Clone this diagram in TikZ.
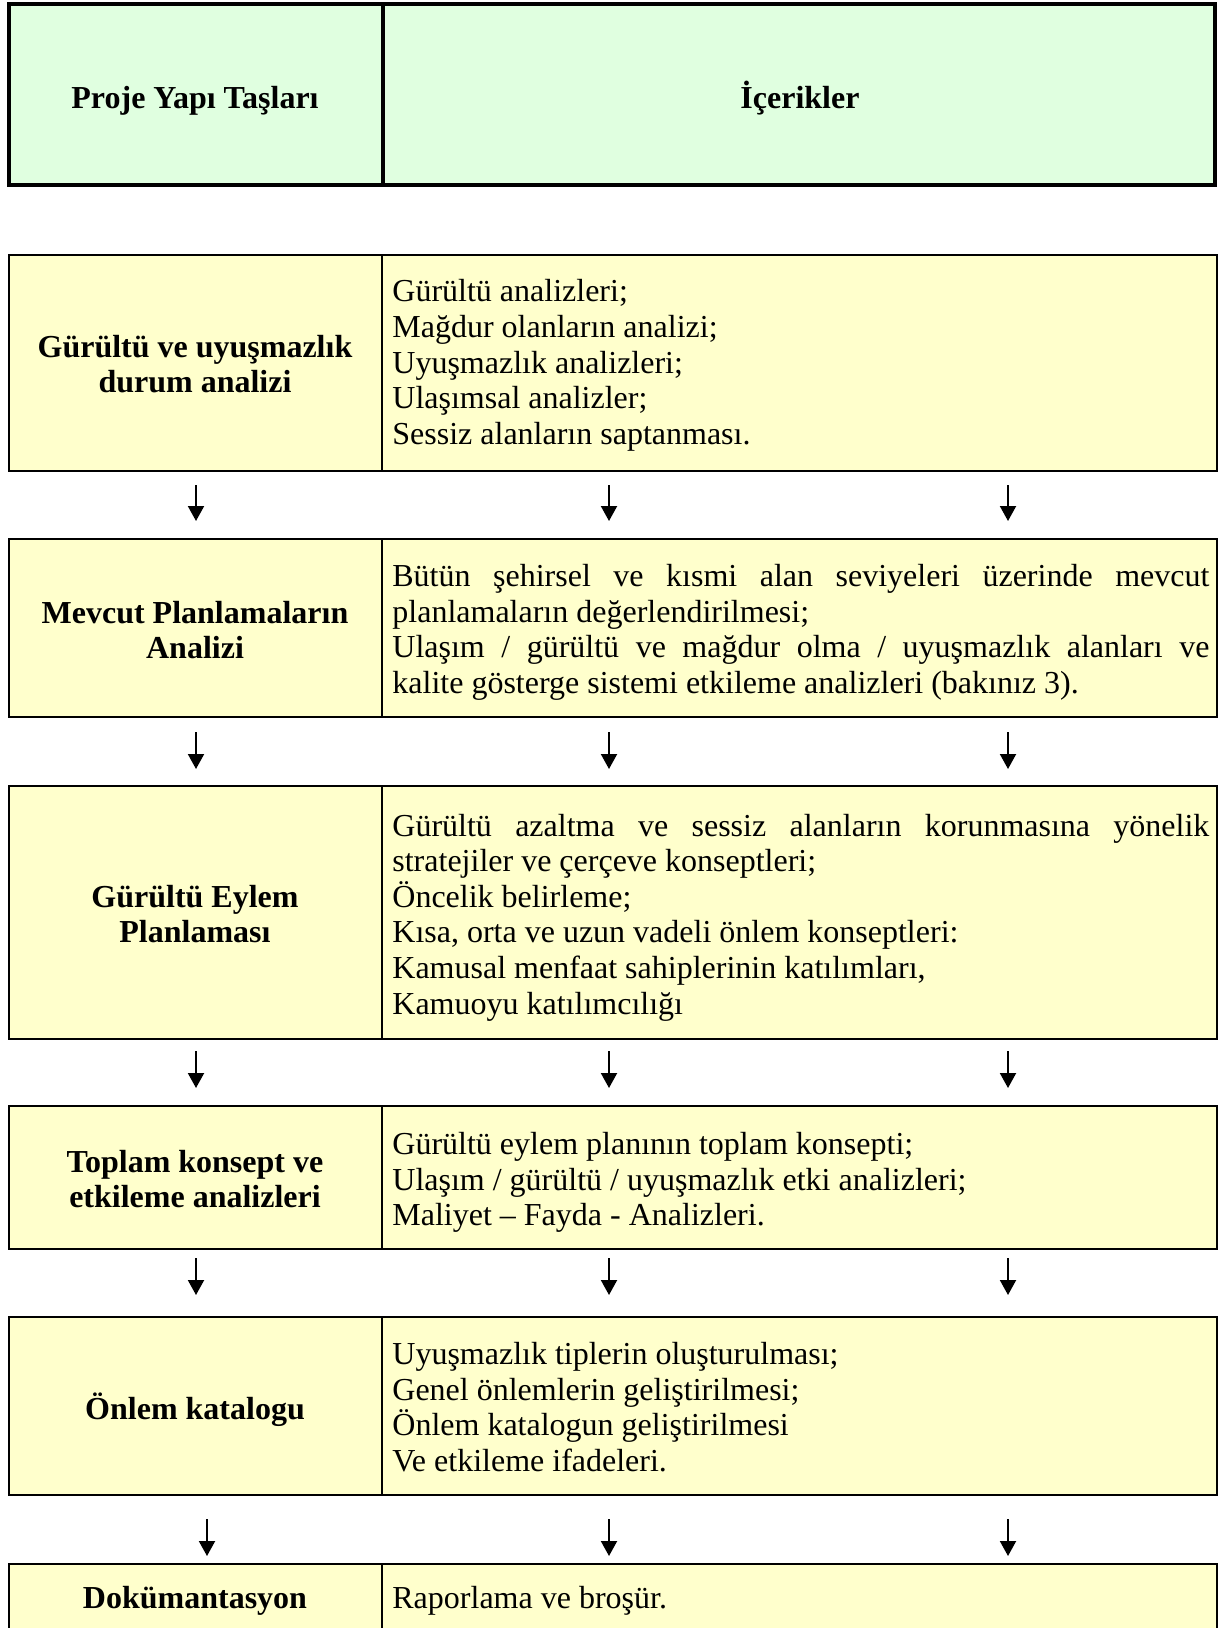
\documentclass[tikz,border=0pt]{standalone}
\usepackage{fontspec}
\setmainfont{Liberation Serif}
\usetikzlibrary{arrows.meta}
\definecolor{hdrgreen}{RGB}{224,255,224}
\definecolor{rowyellow}{RGB}{255,255,204}
\newcommand\lns{\vrule height 15pt depth 15pt width 0pt}
\newcommand\tset{\fontsize{16}{17.8}\selectfont\lineskiplimit=-100pt\lineskip=0pt\spaceskip=.25em\xspaceskip=.25em\relax}
\newcommand\jline[1]{{\spaceskip=.25em plus 3em minus .05em\xspaceskip=\spaceskip\makebox[408.5pt][s]{#1}}}
\begin{document}
\begin{tikzpicture}[x=0.5pt,y=-0.5pt,
  hdrline/.style={draw=black, line width=2pt},
  rowbox/.style={draw=black, line width=0.8pt, fill=rowyellow},
  divline/.style={draw=black, line width=0.8pt},
  headtxt/.style={font=\fontsize{16}{17.8}\selectfont\bfseries, align=center, inner sep=0pt},
  headml/.style={font=\fontsize{16}{17.8}\selectfont\bfseries, align=center, text width=185pt, inner sep=0pt},
  bodytxt/.style={font=\fontsize{16}{17.8}\selectfont, align=left, text width=408.5pt, inner sep=0pt, anchor=west},
  arr/.style={line width=1pt, -{Triangle[width=8pt,length=7.5pt]}}]
\useasboundingbox (0,0) rectangle (1219,1628);

% header
\fill[hdrgreen] (9,4) rectangle (1215,185);
\draw[hdrline] (9,4) rectangle (1215,185);
\draw[hdrline] (383,4) -- (383,185);
\node[headtxt, anchor=base] (hA) at (195,108) {Proje Yapı Taşları};
\node[headtxt, anchor=base] (hB) at (800,108) {İçerikler};

% row 1
\draw[rowbox] (9,255) rectangle (1217,471);
\draw[divline] (382,255) -- (382,471);
\node[headml] (l1) at (195,375) {\tset\bfseries\lns Gürültü ve uyuşmazlık\\\lns durum analizi\par};
\node[bodytxt] (r1) at (392,373) {\tset\noindent\lns Gürültü analizleri;\\\lns Mağdur olanların analizi;\\\lns Uyuşmazlık analizleri;\\\lns Ulaşımsal analizler;\\\lns Sessiz alanların saptanması.\par};

% row 2
\draw[rowbox] (9,539) rectangle (1217,717);
\draw[divline] (382,539) -- (382,717);
\node[headml] (l2) at (195,641) {\tset\bfseries\lns Mevcut Planlamaların\\\lns Analizi\par};
\node[bodytxt] (r2) at (392,640) {\tset\noindent\lns\jline{Bütün şehirsel ve kısmi alan seviyeleri üzerinde mevcut}\\\lns planlamaların değerlendirilmesi;\\\lns\jline{Ulaşım / gürültü ve mağdur olma / uyuşmazlık alanları ve}\\\lns kalite gösterge sistemi etkileme analizleri (bakınız 3).\par};

% row 3
\draw[rowbox] (9,786) rectangle (1217,1039);
\draw[divline] (382,786) -- (382,1039);
\node[headml] (l3) at (195,925) {\tset\bfseries\lns Gürültü Eylem\\\lns Planlaması\par};
\node[bodytxt] (r3) at (392,925) {\tset\noindent\lns\jline{Gürültü azaltma ve sessiz alanların korunmasına yönelik}\\\lns stratejiler ve çerçeve konseptleri;\\\lns Öncelik belirleme;\\\lns Kısa, orta ve uzun vadeli önlem konseptleri:\\\lns Kamusal menfaat sahiplerinin katılımları,\\\lns Kamuoyu katılımcılığı\par};

% row 4
\draw[rowbox] (9,1106) rectangle (1217,1249);
\draw[divline] (382,1106) -- (382,1249);
\node[headml] (l4) at (195,1190) {\tset\bfseries\lns Toplam konsept ve\\\lns etkileme analizleri\par};
\node[bodytxt] (r4) at (392,1190) {\tset\noindent\lns Gürültü eylem planının toplam konsepti;\\\lns Ulaşım / gürültü / uyuşmazlık etki analizleri;\\\lns Maliyet – Fayda - Analizleri.\par};

% row 5
\draw[rowbox] (9,1317) rectangle (1217,1495);
\draw[divline] (382,1317) -- (382,1495);
\node[headtxt, anchor=base] (l5) at (195,1419) {Önlem katalogu};
\node[bodytxt] (r5) at (392,1418) {\tset\noindent\lns Uyuşmazlık tiplerin oluşturulması;\\\lns Genel önlemlerin geliştirilmesi;\\\lns Önlem katalogun geliştirilmesi\\\lns Ve etkileme ifadeleri.\par};

% row 6
\draw[rowbox] (9,1564) rectangle (1217,1640);
\draw[divline] (382,1564) -- (382,1640);
\node[headtxt, anchor=base] (l6) at (195,1608) {Dokümantasyon};
\node[font=\fontsize{16}{17.8}\selectfont, inner sep=0pt, anchor=base west] (r6) at (392,1608) {Raporlama ve broşür.};

% arrows
\foreach \g/\ys/\ye/\xl in {1/485/521/196, 2/732/769/196, 3/1051/1088/196, 4/1258/1295/196, 5/1519/1556/207}{
  \coordinate (s\g a) at (\xl,\ys);  \coordinate (e\g a) at (\xl,\ye);
  \coordinate (s\g b) at (609,\ys);  \coordinate (e\g b) at (609,\ye);
  \coordinate (s\g c) at (1008,\ys); \coordinate (e\g c) at (1008,\ye);
  \draw[arr] (s\g a) -- (e\g a);
  \draw[arr] (s\g b) -- (e\g b);
  \draw[arr] (s\g c) -- (e\g c);
}
\end{tikzpicture}
\end{document}
